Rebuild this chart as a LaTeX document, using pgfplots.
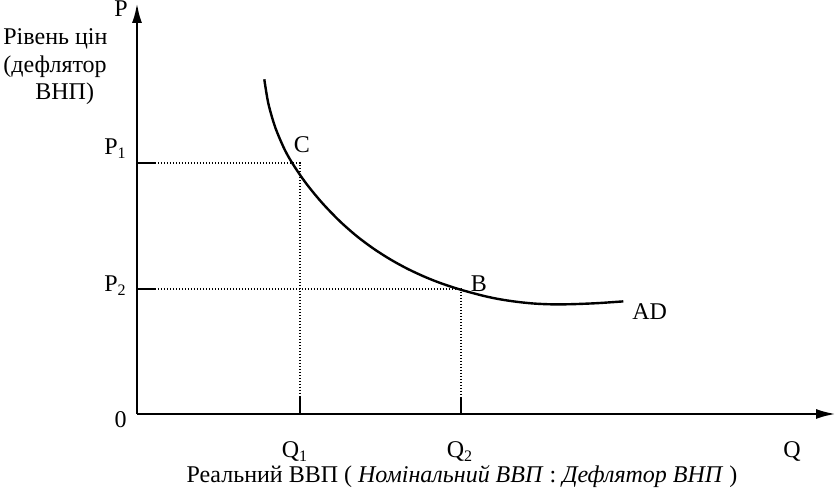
\documentclass[border=0pt]{standalone}
\usepackage{fontspec}
\setmainfont{Liberation Serif}
\usepackage{pgfplots}
\pgfplotsset{compat=1.18}
\usetikzlibrary{arrows.meta}
\begin{document}
\fontsize{12}{14}\selectfont
\begin{tikzpicture}
\begin{axis}[
  scale only axis,
  width=349.5pt, height=205.5pt,
  xmin=0, xmax=699, ymin=0, ymax=411,
  axis lines=left,
  axis line style={line width=1.3pt, -{Latex[length=10pt,width=5pt]}},
  xtick=\empty, ytick=\empty,
  clip=false,
]
\addplot[line width=1.2pt, smooth, tension=0.5] coordinates {
(127.3,334.7) (131.3,310.7) (138,287.3) (146.3,267.3) (153,254.6) (163,239.1)
(173,225.6) (186.3,209.8) (203,192.6) (219.7,177.9) (236.3,165.5) (253,154.8)
(269.7,145.6) (286.3,137.8) (303,131.1) (323,124.5) (346.3,118.2) (363,114.7)
(379.7,112.2) (396.3,110.5) (413,109.7) (429.7,109.7) (446.3,110.2) (463,111) (486.3,112.6)
};
% guide lines
\addplot[line width=0.6pt, dash pattern=on 0.7pt off 0.8pt] coordinates {(0,251) (163,251) (163,0)};
\addplot[line width=0.6pt, dash pattern=on 0.7pt off 0.8pt] coordinates {(0,125) (324,125) (324,0)};
\addplot[line width=1.2pt] coordinates {(0,251) (18,251)};
\addplot[line width=1.2pt] coordinates {(0,125) (18,125)};
\addplot[line width=1.2pt] coordinates {(163,0) (163,17)};
\addplot[line width=1.2pt] coordinates {(324,0) (324,17)};
% labels
\node[anchor=base, inner sep=0pt] at (axis cs:-16,397) {P};
\node[anchor=base west, inner sep=0pt] at (axis cs:-134,369) {Рівень цін};
\node[anchor=base west, inner sep=0pt] at (axis cs:-134,341) {(дефлятор};
\node[anchor=base west, inner sep=0pt] at (axis cs:-102,314) {ВНП)};
\node[anchor=base east, inner sep=0pt] at (axis cs:-10,259) {P\textsubscript{1}};
\node[anchor=base east, inner sep=0pt] at (axis cs:-10,122) {P\textsubscript{2}};
\node[anchor=base east, inner sep=0pt] at (axis cs:-10,-14) {0};
\node[anchor=base, inner sep=0pt] at (axis cs:158,-44) {Q\textsubscript{1}};
\node[anchor=base, inner sep=0pt] at (axis cs:323,-44) {Q\textsubscript{2}};
\node[anchor=base, inner sep=0pt] at (axis cs:655,-44) {Q};
\node[anchor=base, inner sep=0pt] at (axis cs:325,-69) {Реальний ВВП ( \textit{Номінальний ВВП} : \textit{Дефлятор ВНП} )};
\node[anchor=base, inner sep=0pt] at (axis cs:165,261) {C};
\node[anchor=base, inner sep=0pt] at (axis cs:342,122) {B};
\node[anchor=base west, inner sep=0pt] at (axis cs:495,94) {AD};
\coordinate (bl) at (axis cs:-137,-78);
\coordinate (tr) at (axis cs:700,414);
\end{axis}
\pgfresetboundingbox
\path[use as bounding box] (bl) rectangle (tr);
\end{tikzpicture}
\end{document}
